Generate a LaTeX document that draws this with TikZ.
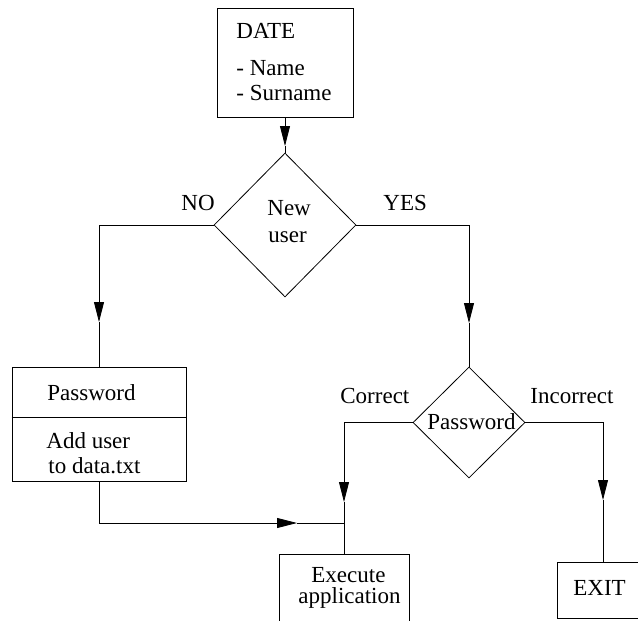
\documentclass[tikz,border=0pt]{standalone}
\usepackage{fontspec}
\setmainfont{Liberation Serif}
\usetikzlibrary{shapes.geometric,arrows.meta,calc}
\begin{document}
\begin{tikzpicture}[x=1pt,y=-1pt,
 line width=0.8pt,
 box/.style={draw, rectangle, inner sep=0pt, line width=0.8pt},
 dia/.style={draw, diamond, inner sep=0pt, line width=0.8pt},
 txt/.style={anchor=base west, inner sep=0pt, font=\fontsize{23}{27}\selectfont},
 arr/.style={-{Triangle[length=20pt,width=10pt]}},
]
\clip (0,0) rectangle (638,621);
% boxes
\node[box, minimum width=136pt, minimum height=109pt] (date) at (285,62.5) {};
\node[txt] (tdate) at (236,38) {DATE};
\node[txt] (tname) at (236,75) {- Name};
\node[txt] (tsur) at (236,100) {- Surname};

\node[dia, minimum width=142pt, minimum height=144pt] (d1) at (285,225) {};
\node[txt] (tnew) at (267,215) {New};
\node[txt] (tuser) at (268,242) {user};
\node[txt] (tno) at (181,210) {NO};
\node[txt] (tyes) at (383,210) {YES};

\node[box, minimum width=174pt, minimum height=114pt] (pwb) at (99,424) {};
\coordinate (divy) at (0,417);
\draw (pwb.west |- divy) -- (pwb.east |- divy);
\node[txt] (tpw1) at (47,400) {Password};
\node[txt] (tadd) at (46,448) {Add user};
\node[txt] (tdata) at (48,473) {to data.txt};

\node[dia, minimum width=112pt, minimum height=111pt] (d2) at (469,422.5) {};
\node[txt] (tpw2) at (427,429) {Password};
\node[txt] (tcor) at (340,403) {Correct};
\node[txt] (tinc) at (530,403) {Incorrect};

\node[box, minimum width=130pt, minimum height=106pt] (exec) at (344,607) {};
\node[txt] (texe) at (311,582) {Execute};
\node[txt] (tapp) at (298,603) {application};

\node[box, minimum width=123pt, minimum height=56pt] (exit) at (618.5,590) {};
\node[txt] (texit) at (573,595) {EXIT};

% connectors
\coordinate (a1) at (285,146);
\draw[arr] (date.south) -- (a1);
\draw (a1) -- (d1.north);

\coordinate (a2) at (99,322);
\draw[arr] (d1.west) -| (a2);
\draw (a2) -- (pwb.north);

\coordinate (a3) at (469,323);
\draw[arr] (d1.east) -| (a3);
\draw (a3) -- (d2.north);

\coordinate (a4) at (297,523);
\coordinate (j) at (344,523);
\draw[arr] (pwb.south) |- (a4);
\draw (a4) -- (j);

\coordinate (a5) at (344,502);
\draw[arr] (d2.west) -| (a5);
\draw (a5) -- (exec.north);

\coordinate (a6) at (603,500);
\draw[arr] (d2.east) -| (a6);
\draw (a6) -- (a6 |- exit.north);
\end{tikzpicture}
\end{document}
